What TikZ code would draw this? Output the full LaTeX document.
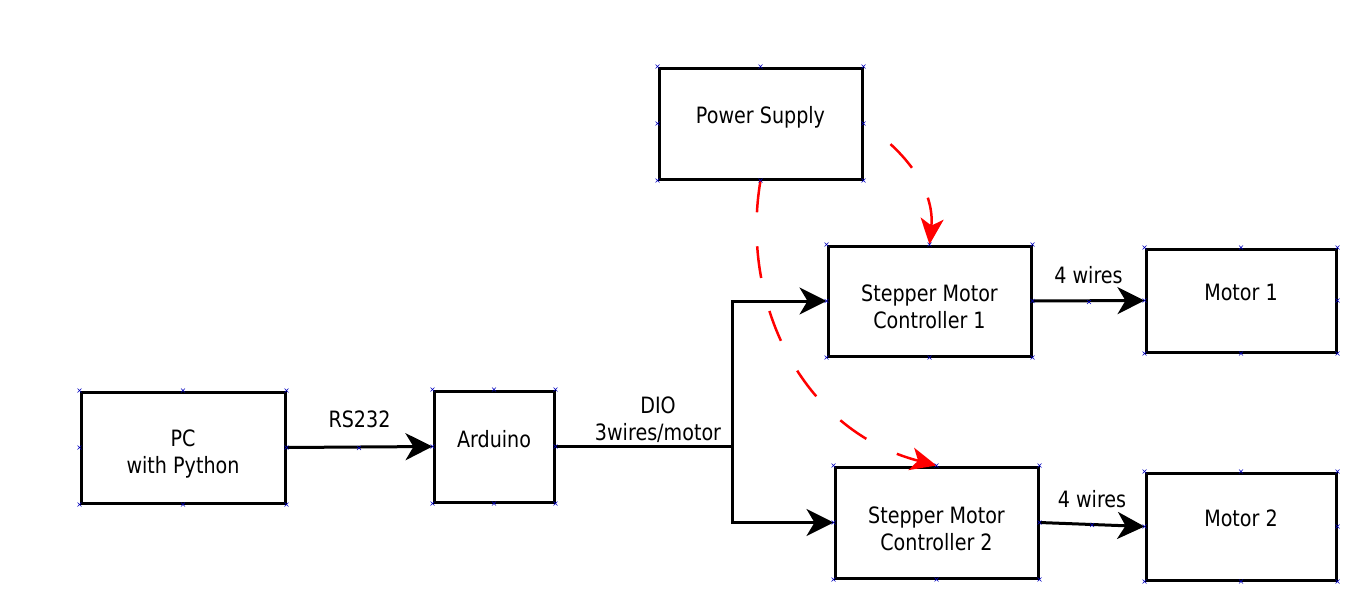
\documentclass[tikz,border=0pt]{standalone}
\usepackage{fontspec}
\setmainfont[FakeStretch=0.85]{DejaVu Sans}
\usetikzlibrary{arrows.meta}
\newcommand\markhandles[1]{%
  \foreach \a in {north west,north,north east,east,south east,south,south west,west}{%
    \draw[handle] (#1.\a) +(-2,-2) -- +(2,2) +(-2,2) -- +(2,-2);}}
\newcommand\boxtext[2]{\raisebox{#1}[0pt][0pt]{\begin{tabular}{@{}c@{}}#2\end{tabular}}}
\tikzset{
  box/.style={draw, line width=3pt, inner sep=0pt, align=center,
    font=\fontsize{22.5}{27}\selectfont},
  lbl/.style={font=\fontsize{22.5}{27}\selectfont, align=center, inner sep=0pt},
  conn/.style={line width=3pt, -{Stealth[length=27pt,width=27pt,inset=8pt]}},
  plain/.style={line width=3pt},
  power/.style={red, line width=2.5pt, dash pattern=on 32pt off 34pt,
    -{Stealth[length=26pt,width=23pt,inset=7pt]}},
  handle/.style={draw=blue!75!black, line width=0.5pt},
}
\begin{document}
\begin{tikzpicture}[x=1pt,y=-1pt]
\useasboundingbox (0,0) rectangle (1358,603);
\fill[white] (0,0) rectangle (1358,603);
\node[box, minimum width=204pt, minimum height=111pt] (pc) at (183,447.5) {\boxtext{-12.5pt}{PC\\with Python}};
\node[box, minimum width=120pt, minimum height=111pt] (ard) at (494,446.5) {\boxtext{-0.5pt}{Arduino}};
\node[box, minimum width=203pt, minimum height=111pt] (ps) at (760.5,123.5) {\boxtext{0.5pt}{Power Supply}};
\node[box, minimum width=203pt, minimum height=110pt] (smc1) at (929.5,301) {\boxtext{-14pt}{Stepper Motor\\Controller 1}};
\node[box, minimum width=203pt, minimum height=111pt] (smc2) at (936.5,522.5) {\boxtext{-14.5pt}{Stepper Motor\\Controller 2}};
\node[box, minimum width=190pt, minimum height=103pt] (m1) at (1241,300.5) {\boxtext{0.5pt}{Motor 1}};
\node[box, minimum width=190pt, minimum height=107pt] (m2) at (1241,526.5) {\boxtext{0.5pt}{Motor 2}};
\coordinate (j) at (732,446.5);
% connectors
\draw[conn] (pc.east) -- node[lbl, pos=0.5, anchor=base, yshift=20pt] (lrs) {RS232} (ard.west);
\draw[plain] (ard.east) -- (j);
\node[lbl] (ldio) at (658,420) {DIO\\3wires/motor};
\draw[conn] (j) |- (smc1.west);
\draw[conn] (j) |- (smc2.west);
\draw[conn] (smc1.east) -- node[lbl, pos=0.5, anchor=base, yshift=17pt] (lw1) {4 wires} (m1.west);
\draw[conn] (smc2.east) -- node[lbl, pos=0.5, anchor=base, yshift=17pt] (lw2) {4 wires} (m2.west);
% power lines
\draw[power, dash phase=32pt] (ps.east) .. controls (905,150) and (935,190) .. (smc1.north);
\draw[power] (ps.south) .. controls (740,300) and (800,430) .. (smc2.north);
% editor handles
\markhandles{pc}\markhandles{ard}\markhandles{ps}\markhandles{smc1}
\markhandles{smc2}\markhandles{m1}\markhandles{m2}
\foreach \p in {(359,448),(1089,302),(1092,525)}{
  \draw[handle] \p +(-2,-2) -- +(2,2) +(-2,2) -- +(2,-2);}
\end{tikzpicture}
\end{document}
